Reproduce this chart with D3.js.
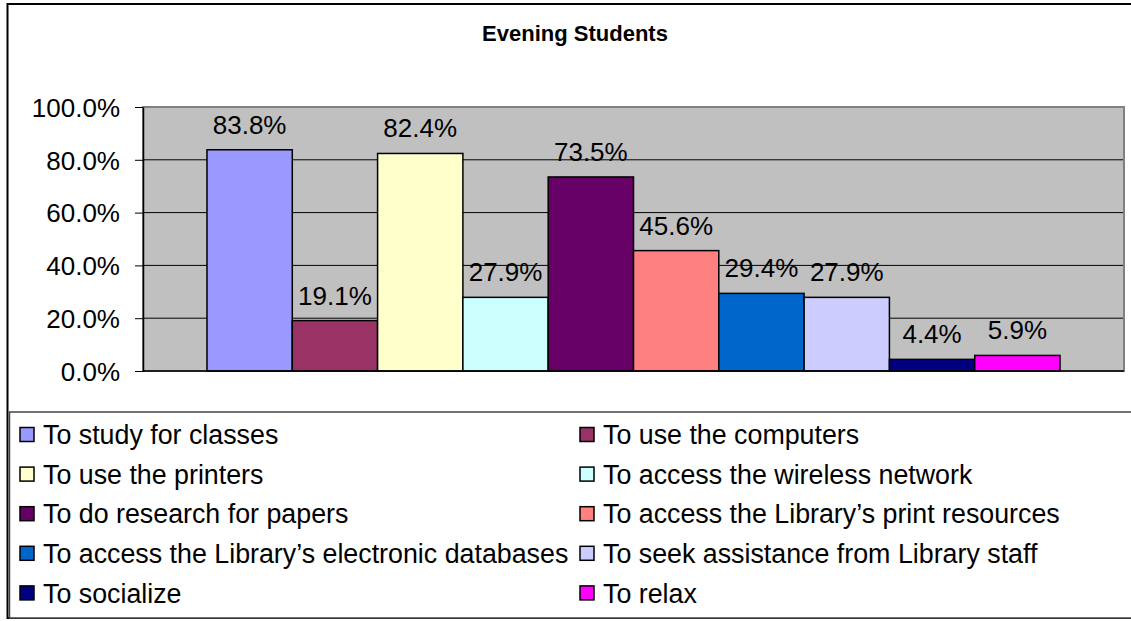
<!DOCTYPE html>
<html>
<head>
<meta charset="utf-8">
<script src="https://cdn.jsdelivr.net/npm/d3@7"></script>
<style>
  html, body { margin: 0; padding: 0; background: #fff; }
  svg { display: block; }
  text { font-family: "Liberation Sans", Arial, sans-serif; fill: #000; }
</style>
</head>
<body>
<svg id="chart" width="1131" height="621"></svg>
<script>
const chartTitle = "Evening Students";
const categories = [
  "To study for classes",
  "To use the computers",
  "To use the printers",
  "To access the wireless network",
  "To do research for papers",
  "To access the Library\u2019s print resources",
  "To access the Library\u2019s electronic databases",
  "To seek assistance from Library staff",
  "To socialize",
  "To relax"
];
const values = [83.8, 19.1, 82.4, 27.9, 73.5, 45.6, 29.4, 27.9, 4.4, 5.9];
const colors = ["#9999FF", "#993366", "#FFFFCC", "#CCFFFF", "#660066",
                "#FF8080", "#0066CC", "#CCCCFF", "#000080", "#FF00FF"];
const yTicks = [0, 20, 40, 60, 80, 100];

const svg = d3.select("#chart");
const plot = { left: 143, right: 1124, top: 107, bottom: 371 };

// outer chart border
svg.append("rect")
  .attr("x", 7.5).attr("y", 4).attr("width", 1140).attr("height", 614)
  .attr("fill", "#fff").attr("stroke", "#000").attr("stroke-width", 2);

// title
svg.append("text")
  .attr("x", 575).attr("y", 40.5)
  .attr("text-anchor", "middle")
  .attr("font-size", 22).attr("font-weight", "bold")
  .text(chartTitle);

const y = d3.scaleLinear().domain([0, 100]).range([plot.bottom, plot.top]);
const x = d3.scaleBand().domain(categories)
  .range([plot.left, plot.right]).paddingInner(0).paddingOuter(0.75);

// plot area
svg.append("rect")
  .attr("x", plot.left).attr("y", plot.top)
  .attr("width", plot.right - plot.left).attr("height", plot.bottom - plot.top)
  .attr("fill", "#C0C0C0").attr("stroke", "#808080").attr("stroke-width", 2);

// gridlines
svg.append("g").selectAll("line")
  .data(yTicks.filter(d => d > 0 && d < 100))
  .join("line")
  .attr("x1", plot.left).attr("x2", plot.right - 1)
  .attr("y1", d => y(d)).attr("y2", d => y(d))
  .attr("stroke", "#000").attr("stroke-width", 1);

// y axis
const yAxis = d3.axisLeft(y).tickValues(yTicks)
  .tickFormat(d => d3.format(".1f")(d) + "%")
  .tickSize(8).tickSizeOuter(0).tickPadding(15);
const gy = svg.append("g").attr("transform", `translate(${plot.left},0)`).call(yAxis);
gy.select(".domain").attr("stroke", "#000").attr("stroke-width", 1.5);
gy.selectAll(".tick line").attr("stroke", "#000");
gy.selectAll(".tick text")
  .attr("font-family", "Liberation Sans, Arial, sans-serif")
  .attr("font-size", 26).attr("fill", "#000").attr("dy", "0.36em");

// bars
svg.append("g").selectAll("rect")
  .data(values)
  .join("rect")
  .attr("x", (d, i) => x(categories[i]))
  .attr("y", d => y(d))
  .attr("width", x.bandwidth())
  .attr("height", d => y(0) - y(d))
  .attr("fill", (d, i) => colors[i])
  .attr("stroke", "#000").attr("stroke-width", 1.5);

// bottom axis line
svg.append("line")
  .attr("x1", plot.left).attr("x2", plot.right)
  .attr("y1", y(0)).attr("y2", y(0))
  .attr("stroke", "#000").attr("stroke-width", 1.5);

// data labels
svg.append("g").selectAll("text")
  .data(values)
  .join("text")
  .attr("x", (d, i) => x(categories[i]) + x.bandwidth() / 2)
  .attr("y", d => y(d) - 16)
  .attr("text-anchor", "middle")
  .attr("font-size", 26)
  .text(d => d3.format(".1f")(d) + "%");

// legend
const legend = { left: 9.5, top: 412, bottom: 618 };
svg.append("rect")
  .attr("x", legend.left).attr("y", legend.top)
  .attr("width", 1140).attr("height", legend.bottom - legend.top)
  .attr("fill", "#fff").attr("stroke", "#444").attr("stroke-width", 1.5);

const colX = [20, 580];
const rowY = d3.range(5).map(r => 434.5 + r * 39.6);
const items = svg.append("g").selectAll("g")
  .data(categories)
  .join("g")
  .attr("transform", (d, i) => `translate(${colX[i % 2]},${rowY[Math.floor(i / 2)]})`);
items.append("rect")
  .attr("x", 0).attr("y", -7).attr("width", 14).attr("height", 14)
  .attr("fill", (d, i) => colors[i]).attr("stroke", "#000").attr("stroke-width", 1.5);
items.append("text")
  .attr("x", 23).attr("y", 0).attr("dy", "0.36em")
  .attr("font-size", 26.8)
  .text(d => d);
</script>
</body>
</html>
